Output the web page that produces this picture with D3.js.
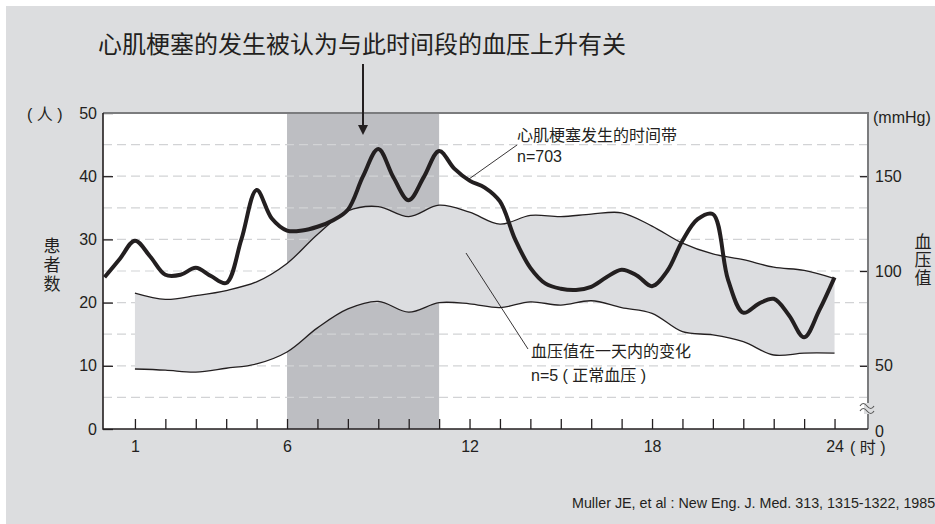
<!DOCTYPE html>
<html>
<head>
<meta charset="utf-8">
<script src="https://cdn.jsdelivr.net/npm/d3@7"></script>
<style>
  body { margin: 0; background: #fff; }
  svg text { font-family: "Liberation Sans", "Noto Sans CJK SC", sans-serif; fill: #231f20; white-space: pre; }
  .axis path { display: none; }
  .axis line { stroke: #231f20; stroke-width: 1.3; }
  .axis text { font-size: 16px; fill: #231f20; font-family: "Liberation Sans", sans-serif; }
</style>
</head>
<body>
<div id="chart"></div>
<script>
// heart attack onsets per time of day (n=703), read every half hour
const miHours = [0, 0.5, 1, 1.5, 2, 2.5, 3, 3.5, 4, 4.5, 5, 5.5, 6, 6.5, 7, 7.5, 8, 8.5,
  9, 9.5, 10, 10.5, 11, 11.5, 12, 12.5, 13, 13.5, 14, 14.5, 15, 15.5, 16, 16.5, 17,
  17.5, 18, 18.5, 19, 19.5, 20, 20.5, 21, 21.5, 22, 22.5, 23, 23.5, 24];
const miCount = [24, 26.9, 29.8, 27.3, 24.4, 24.4, 25.5, 24.2, 23.1, 30, 37.8, 33.3, 31.4, 31.4,
  32, 33, 34.7, 40, 44.3, 39.8, 36.2, 39.9, 44, 41.2, 39.3, 38.2, 36, 30, 25.5, 23, 22.2,
  22, 22.5, 24, 25.2, 24.3, 22.6, 25, 29.8, 33.2, 34, 23.6, 18.4, 19.8, 20.6, 18, 14.5, 18.8, 24];

// blood pressure over the day (n=5), mmHg
const bpHours = [1, 2, 3, 4, 5, 6, 7, 8, 9, 10, 11, 12, 13, 14, 15, 16, 17, 18, 19, 20, 21, 22, 23, 24];
const bpHigh = [88.3, 85, 87, 89.7, 94.3, 104, 119.3, 131.7, 134, 128.7, 134.7, 131, 124.7,
  129.3, 128.7, 130, 130.7, 123.7, 114.7, 109, 106, 102, 100.3, 96];
const bpLow = [48.3, 47.7, 46.7, 48.7, 51, 57.3, 70, 80, 84, 78.3, 83.3, 82.7, 80.7,
  83.7, 82, 84.3, 80.7, 77.7, 68, 66.3, 62.7, 55.7, 56.7, 56.7];

const hourTicks = [1, 2, 3, 4, 5, 6, 7, 8, 9, 10, 11, 12, 13, 14, 15, 16, 17, 18, 19, 20, 21, 22, 23, 24];
const hourLabels = [1, 6, 12, 18, 24];
const countTicks = [0, 10, 20, 30, 40, 50];
const gridValues = [5, 10, 15, 20, 25, 30, 35, 40, 45];
const mmHgTicks = [50, 100, 150];
const riskBand = [6, 11];

const width = 935, height = 524;
const pLeft = 103, pRight = 868, pTop = 113, pBottom = 429;

const svg = d3.select("#chart").append("svg")
  .attr("width", width)
  .attr("height", height);

svg.append("rect")
  .attr("x", 6).attr("y", 6)
  .attr("width", width - 6).attr("height", height - 6)
  .attr("fill", "#dcdddf");

let x = d3.scaleLinear().domain([-0.05, 25.1]).range([pLeft, pRight]);
let yL = d3.scaleLinear().domain([0, 50]).range([pBottom, pTop]);
let yR = d3.scaleLinear().domain([50, 150]).range([yL(10), yL(40)]);

// plot area
svg.append("rect")
  .attr("x", pLeft).attr("y", pTop)
  .attr("width", pRight - pLeft).attr("height", pBottom - pTop)
  .attr("fill", "#fff");

svg.append("rect")
  .attr("x", x(riskBand[0])).attr("y", pTop)
  .attr("width", x(riskBand[1]) - x(riskBand[0]))
  .attr("height", pBottom - pTop)
  .attr("fill", "#bdbec2");

svg.append("g").selectAll("line")
  .data(gridValues)
  .enter()
  .append("line")
  .attr("x1", pLeft).attr("x2", pRight)
  .attr("y1", d => yL(d)).attr("y2", d => yL(d))
  .attr("stroke", "#d2d3d5")
  .attr("stroke-width", 1.2)
  .attr("stroke-dasharray", "9,5");

// blood pressure band
let bpData = bpHours.map((h, i) => ({h: h, hi: bpHigh[i], lo: bpLow[i]}));

let bpArea = d3.area()
  .x(d => x(d.h))
  .y0(d => yR(d.lo))
  .y1(d => yR(d.hi))
  .curve(d3.curveCatmullRom.alpha(0.5));

svg.append("path")
  .datum(bpData)
  .attr("d", bpArea)
  .attr("fill", "#dcdde0");

["hi", "lo"].forEach(k => {
  svg.append("path")
    .datum(bpData)
    .attr("d", d3.line().x(d => x(d.h)).y(d => yR(d[k])).curve(d3.curveCatmullRom.alpha(0.5)))
    .attr("fill", "none")
    .attr("stroke", "#231f20")
    .attr("stroke-width", 1.3);
});

// heart attack curve
let miData = miHours.map((h, i) => ({h: h, v: miCount[i]}));

svg.append("path")
  .datum(miData)
  .attr("d", d3.line().x(d => x(d.h)).y(d => yL(d.v)).curve(d3.curveCatmullRom.alpha(0.5)))
  .attr("fill", "none")
  .attr("stroke", "#231f20")
  .attr("stroke-width", 4)
  .attr("stroke-linejoin", "round");

// axes
svg.append("g")
  .attr("class", "axis")
  .attr("transform", "translate(0," + pBottom + ")")
  .call(d3.axisBottom(x).tickValues(hourTicks).tickSizeInner(-10).tickSizeOuter(0).tickPadding(12)
    .tickFormat(d => hourLabels.includes(d) ? d : ""));

svg.append("g")
  .attr("class", "axis")
  .attr("transform", "translate(" + pLeft + ",0)")
  .call(d3.axisLeft(yL).tickValues(countTicks).tickSizeInner(-10).tickSizeOuter(0).tickPadding(6));

svg.append("g")
  .attr("class", "axis")
  .attr("transform", "translate(" + pRight + ",0)")
  .call(d3.axisRight(yR).tickValues(mmHgTicks).tickSizeInner(-8).tickSizeOuter(0).tickPadding(7));

// frame
svg.append("path")
  .attr("d", "M" + pLeft + "," + pTop + "H" + pRight + "V" + pBottom)
  .attr("fill", "none")
  .attr("stroke", "#7b7c7e")
  .attr("stroke-width", 2);

svg.append("path")
  .attr("d", "M" + pLeft + "," + pTop + "V" + pBottom + "H" + pRight)
  .attr("fill", "none")
  .attr("stroke", "#231f20")
  .attr("stroke-width", 1.6);

// axis break on the right
svg.append("rect")
  .attr("x", pRight - 4).attr("y", 403)
  .attr("width", 10).attr("height", 11)
  .attr("fill", "#dcdddf");

[406, 411].forEach(yy => {
  svg.append("path")
    .attr("d", "M860," + yy + " q3,-5 7,0 t7,0")
    .attr("fill", "none")
    .attr("stroke", "#555")
    .attr("stroke-width", 1.1);
});

svg.append("text")
  .attr("x", 875).attr("y", 437)
  .attr("font-size", 16)
  .text("0");

// texts
svg.append("text")
  .attr("x", 98).attr("y", 53)
  .attr("font-size", 24)
  .text("心肌梗塞的发生被认为与此时间段的血压上升有关");

svg.append("line")
  .attr("x1", 363).attr("y1", 64)
  .attr("x2", 363).attr("y2", 128)
  .attr("stroke", "#231f20")
  .attr("stroke-width", 2);

svg.append("path")
  .attr("d", "M358,125 L368,125 L363,135 Z")
  .attr("fill", "#231f20");

svg.append("text")
  .attr("x", 27).attr("y", 120)
  .attr("font-size", 16)
  .text("( 人 )");

["患", "者", "数"].forEach((c, i) => {
  svg.append("text")
    .attr("x", 52).attr("y", 252 + i * 19)
    .attr("text-anchor", "middle")
    .attr("font-size", 17)
    .text(c);
});

svg.append("text")
  .attr("x", 873).attr("y", 123)
  .attr("font-size", 16)
  .text("(mmHg)");

["血", "压", "值"].forEach((c, i) => {
  svg.append("text")
    .attr("x", 923).attr("y", 248 + i * 18)
    .attr("text-anchor", "middle")
    .attr("font-size", 17)
    .text(c);
});

svg.append("text")
  .attr("x", 850).attr("y", 453)
  .attr("font-size", 16)
  .text("( 时 )");

svg.append("text")
  .attr("x", 517).attr("y", 141)
  .attr("font-size", 16)
  .text("心肌梗塞发生的时间带");

svg.append("text")
  .attr("x", 517).attr("y", 162)
  .attr("font-size", 16)
  .text("n=703");

svg.append("line")
  .attr("x1", 517).attr("y1", 145)
  .attr("x2", 469).attr("y2", 179)
  .attr("stroke", "#231f20")
  .attr("stroke-width", 0.9);

svg.append("text")
  .attr("x", 531).attr("y", 357)
  .attr("font-size", 16)
  .text("血压值在一天内的变化");

svg.append("text")
  .attr("x", 531).attr("y", 381)
  .attr("font-size", 16)
  .text("n=5 ( 正常血压 )");

svg.append("line")
  .attr("x1", 466).attr("y1", 253)
  .attr("x2", 528).attr("y2", 349)
  .attr("stroke", "#231f20")
  .attr("stroke-width", 0.9);

svg.append("text")
  .attr("x", 572).attr("y", 508)
  .attr("font-size", 14.3)
  .attr("fill", "#333")
  .text("Muller JE, et al : New Eng. J. Med. 313, 1315-1322, 1985");
</script>
</body>
</html>
